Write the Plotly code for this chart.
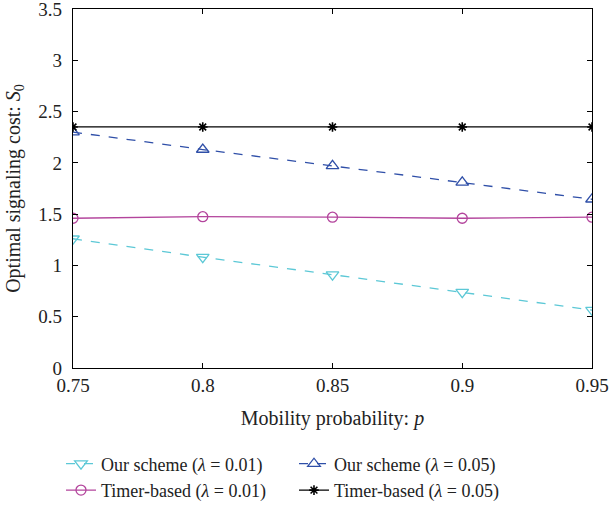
import plotly.graph_objects as go

p = [0.75, 0.8, 0.85, 0.9, 0.95]
ours_001 = [1.26, 1.08, 0.91, 0.74, 0.565]
ours_005 = [2.30, 2.13, 1.97, 1.81, 1.645]
timer_001 = [1.46, 1.475, 1.47, 1.46, 1.47]
timer_005 = [2.35, 2.35, 2.35, 2.35, 2.35]
x_ticktext = ["0.75", "0.8", "0.85", "0.9", "0.95"]
y_tickvals = [0, 0.5, 1, 1.5, 2, 2.5, 3, 3.5]
y_ticktext = ["0", "0.5", "1", "1.5", "2", "2.5", "3", "3.5"]

FONT = "Liberation Serif"
TXT = "#222222"
fig = go.Figure()
fig.add_trace(go.Scatter(x=p, y=ours_001, mode="lines+markers",
    name="Our scheme (<i>λ</i> = 0.01)",
    line=dict(color="#5cc8d6", width=1.3, dash="dash"),
    marker=dict(symbol="triangle-down-open", size=11, color="#5cc8d6", line=dict(width=1.3))))
fig.add_trace(go.Scatter(x=p, y=ours_005, mode="lines+markers",
    name="Our scheme (<i>λ</i> = 0.05)",
    line=dict(color="#2f4fa8", width=1.3, dash="dash"),
    marker=dict(symbol="triangle-up-open", size=11, color="#2f4fa8", line=dict(width=1.3))))
fig.add_trace(go.Scatter(x=p, y=timer_001, mode="lines+markers",
    name="Timer-based (<i>λ</i> = 0.01)",
    line=dict(color="#b3449c", width=1.3),
    marker=dict(symbol="circle-open", size=10, color="#b3449c", line=dict(width=1.3))))
fig.add_trace(go.Scatter(x=p, y=timer_005, mode="lines+markers",
    name="Timer-based (<i>λ</i> = 0.05)",
    line=dict(color="black", width=1.3),
    marker=dict(symbol="asterisk-open", size=8, color="black", line=dict(width=1.6, color="black"))))

axis_common = dict(showgrid=False, zeroline=False, showline=True, linecolor="black",
                   linewidth=1.2, mirror="ticks", ticks="inside", ticklen=5,
                   tickcolor="black", tickfont=dict(family=FONT, size=19, color=TXT),
                   automargin=False, ticklabeloverflow="allow")
fig.update_xaxes(range=[0.75, 0.95], tickvals=p, ticktext=x_ticktext, ticklabelstandoff=0,
                 title=dict(text="Mobility probability: <i>p</i>", font=dict(family=FONT, size=20, color=TXT), standoff=16),
                 **axis_common)
fig.update_yaxes(range=[0, 3.5], tickvals=y_tickvals, ticktext=y_ticktext, ticklabelstandoff=6,
                 title=dict(text="Optimal signaling cost: <i>S</i><sub>0</sub>", font=dict(family=FONT, size=20, color=TXT), standoff=12),
                 **axis_common)
fig.update_layout(
    width=613, height=505, plot_bgcolor="white", paper_bgcolor="white",
    margin=dict(l=73, r=21, t=9, b=137, autoexpand=False),
    font=dict(family=FONT, size=18, color=TXT),
    legend=dict(orientation="h", xref="container", yref="container",
                x=0.0995, xanchor="left", y=0.1178, yanchor="top",
                entrywidth=188, entrywidthmode="pixels", tracegroupgap=0,
                font=dict(family=FONT, size=18, color=TXT), itemwidth=30),
)
fig.write_html("out.html", config={"displayModeBar": False},
               post_script="document.body.style.margin='0px';")
